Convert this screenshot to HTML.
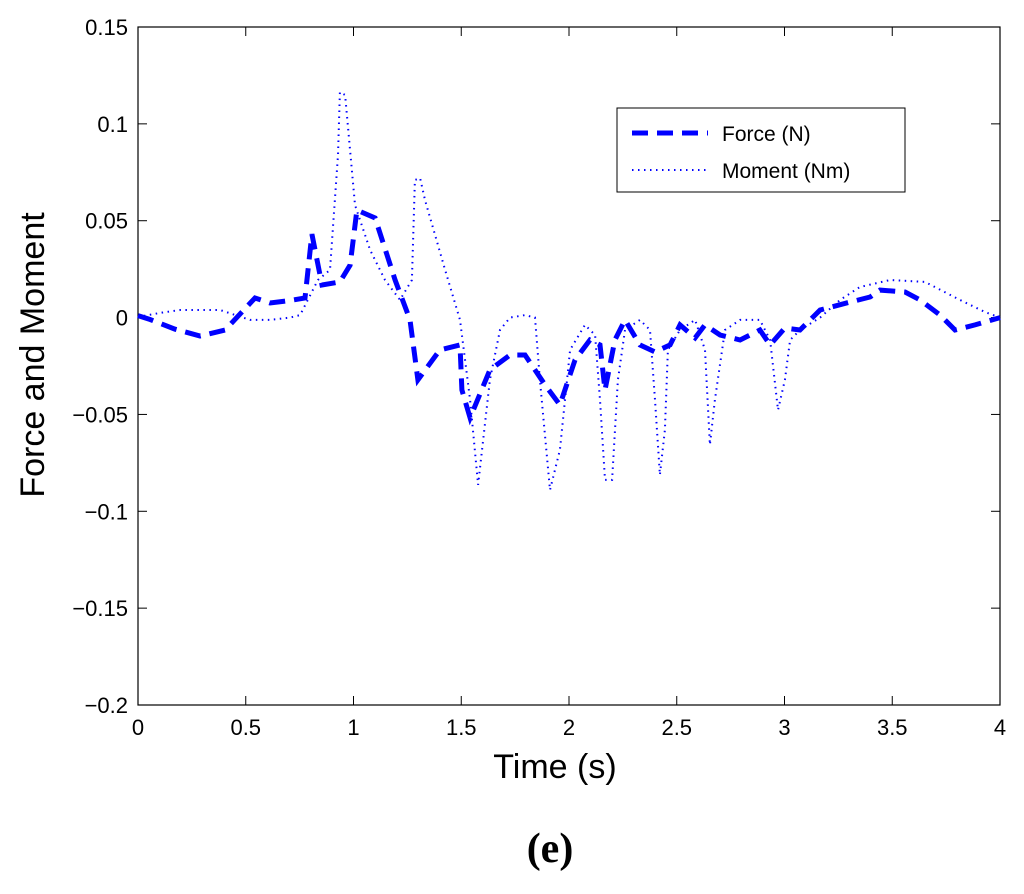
<!DOCTYPE html>
<html><head><meta charset="utf-8"><style>
body{margin:0;background:#fff;}
svg text{font-family:"Liberation Sans",sans-serif;}
</style></head><body>
<svg id="chart" width="1024" height="889" xmlns="http://www.w3.org/2000/svg">
<rect x="0" y="0" width="1024" height="889" fill="#fff"/>
<rect x="138" y="27" width="862" height="678" fill="#fff" stroke="#000" stroke-width="1.2"/>
<g id="ticks"></g>
<g id="series"></g>
<text x="555" y="778" font-size="34" text-anchor="middle">Time (s)</text>
<text transform="translate(44,355) rotate(-90)" font-size="34" text-anchor="middle">Force and Moment</text>
<g>
<rect x="617" y="108" width="288" height="84" fill="#fff" stroke="#000" stroke-width="1"/>
<line x1="632" y1="133" x2="708" y2="133" stroke="#0000ff" stroke-width="5" stroke-dasharray="16,9"/>
<text x="722" y="141" font-size="21">Force (N)</text>
<line x1="632" y1="170" x2="708" y2="170" stroke="#0000ff" stroke-width="2" stroke-dasharray="1.5,4.5"/>
<text x="722" y="178" font-size="21">Moment (Nm)</text>
</g>
<text x="550" y="862" font-size="42" font-weight="bold" text-anchor="middle" style="font-family:'Liberation Serif',serif">(e)</text>
</svg>
<script>
const xTicks=[0,0.5,1,1.5,2,2.5,3,3.5,4];
const xTickLabels=["0","0.5","1","1.5","2","2.5","3","3.5","4"];
const yTicks=[0.15,0.1,0.05,0,-0.05,-0.1,-0.15,-0.2];
const yTickLabels=["0.15","0.1","0.05","0","\u22120.05","\u22120.1","\u22120.15","\u22120.2"];
const forceT=[0,0.056,0.172,0.288,0.404,0.543,0.613,0.705,0.775,0.807,0.854,0.937,0.984,1.016,1.1,1.193,1.262,1.299,1.401,1.494,1.503,1.541,1.633,1.726,1.796,1.889,1.958,2.028,2.097,2.144,2.167,2.213,2.26,2.329,2.399,2.469,2.515,2.585,2.631,2.701,2.794,2.886,2.933,3.002,3.072,3.165,3.304,3.397,3.443,3.559,3.629,3.722,3.791,3.884,4];
const forceV=[0.001,-0.001,-0.006,-0.0095,-0.0064,0.0101,0.0075,0.0088,0.0101,0.0431,0.0168,0.0184,0.0271,0.0555,0.0514,0.0194,-0.0012,-0.0322,-0.0167,-0.0141,-0.0374,-0.0518,-0.027,-0.0193,-0.0193,-0.0348,-0.0451,-0.0219,-0.0116,-0.0141,-0.0374,-0.0116,-0.0012,-0.0141,-0.0177,-0.0141,-0.0038,-0.0105,-0.0038,-0.009,-0.0116,-0.0064,-0.0141,-0.0054,-0.0064,0.0039,0.008,0.0106,0.0142,0.0132,0.0091,0.0013,-0.0064,-0.0038,0];
const momentT=[0,0.102,0.195,0.381,0.52,0.613,0.705,0.752,0.835,0.891,0.928,0.937,0.961,1.007,1.077,1.146,1.216,1.271,1.285,1.309,1.332,1.425,1.494,1.541,1.578,1.633,1.68,1.726,1.796,1.842,1.865,1.912,1.958,2.005,2.074,2.121,2.144,2.167,2.2,2.227,2.26,2.329,2.376,2.399,2.422,2.445,2.459,2.515,2.585,2.631,2.654,2.677,2.724,2.794,2.886,2.933,2.97,3.002,3.026,3.072,3.165,3.258,3.35,3.49,3.652,3.814,3.93,4];
const momentV=[0.0003,0.0024,0.0039,0.0039,-0.0012,-0.0012,0,0.0013,0.0194,0.0246,0.0839,0.1164,0.1149,0.0581,0.0349,0.0194,0.0091,0.0194,0.071,0.072,0.0607,0.0246,-0.0012,-0.0425,-0.0864,-0.0322,-0.0064,0,0.0013,0,-0.0322,-0.089,-0.0683,-0.0167,-0.0038,-0.009,-0.0425,-0.0838,-0.0838,-0.0322,-0.0064,-0.0012,-0.0064,-0.0425,-0.0812,-0.058,-0.0167,-0.0064,-0.0012,-0.0167,-0.0657,-0.0425,-0.0064,-0.0012,-0.0012,-0.0116,-0.0477,-0.0322,-0.0116,-0.0064,0,0.0091,0.0158,0.0194,0.0184,0.0091,0.0029,0];
const NS="http://www.w3.org/2000/svg";
const X0=138,X1=1000,Y0=27,Y1=705,xmin=0,xmax=4,ymin=-0.2,ymax=0.15;
function sx(v){return X0+(v-xmin)/(xmax-xmin)*(X1-X0);}
function sy(v){return Y1-(v-ymin)/(ymax-ymin)*(Y1-Y0);}
const tg=document.getElementById('ticks');
xTicks.forEach((t,i)=>{
 const x=sx(t);
 [[Y1,Y1-9],[Y0,Y0+9]].forEach(p=>{const l=document.createElementNS(NS,'line');l.setAttribute('x1',x);l.setAttribute('x2',x);l.setAttribute('y1',p[0]);l.setAttribute('y2',p[1]);l.setAttribute('stroke','#000');
 
 
 tg.appendChild(l);});
 const tx=document.createElementNS(NS,'text');tx.setAttribute('x',x);tx.setAttribute('y',Y1+30);tx.setAttribute('font-size','22');tx.setAttribute('text-anchor','middle');tx.textContent=xTickLabels[i];
 
 
 tg.appendChild(tx);
});
yTicks.forEach((t,i)=>{
 const y=sy(t);
 [[X0,X0+9],[X1,X1-9]].forEach(p=>{const l=document.createElementNS(NS,'line');l.setAttribute('x1',p[0]);l.setAttribute('x2',p[1]);l.setAttribute('y1',y);l.setAttribute('y2',y);l.setAttribute('stroke','#000');
 
 
 tg.appendChild(l);});
 const tx=document.createElementNS(NS,'text');tx.setAttribute('x',X0-10);tx.setAttribute('y',y+8);tx.setAttribute('font-size','22');tx.setAttribute('text-anchor','end');tx.textContent=yTickLabels[i];
 
 
 tg.appendChild(tx);
});
const sg=document.getElementById('series');
function path(T,V){return T.map((t,i)=>(i?'L':'M')+sx(t).toFixed(1)+','+sy(V[i]).toFixed(1)).join(' ');}
const pm=document.createElementNS(NS,'path');pm.setAttribute('d',path(momentT,momentV));pm.setAttribute('fill','none');pm.setAttribute('stroke','#0000ff');pm.setAttribute('stroke-width','2');pm.setAttribute('stroke-dasharray','1.5,4.5');


sg.appendChild(pm);
const pf=document.createElementNS(NS,'path');pf.setAttribute('d',path(forceT,forceV));pf.setAttribute('fill','none');pf.setAttribute('stroke','#0000ff');pf.setAttribute('stroke-width','5');pf.setAttribute('stroke-dasharray','16,9');


sg.appendChild(pf);
</script>
</body></html>
